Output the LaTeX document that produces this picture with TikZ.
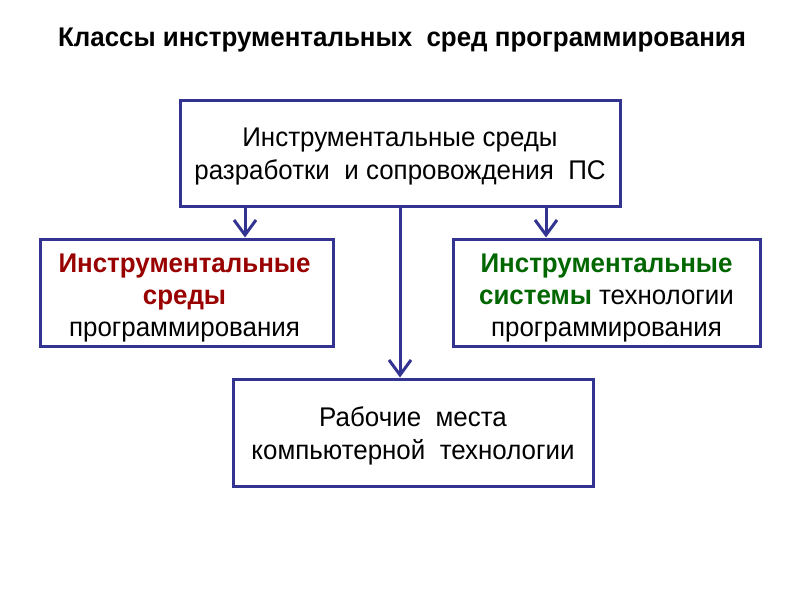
\documentclass[tikz,border=0pt]{standalone}
\usepackage{fontspec}
\setmainfont[FakeStretch=0.96]{Liberation Sans}
\usetikzlibrary{arrows.meta}
\definecolor{boxblue}{RGB}{51,51,145}
\definecolor{dred}{RGB}{153,0,0}
\definecolor{dgreen}{RGB}{0,102,0}
\begin{document}
\begin{tikzpicture}[x=1pt,y=-1pt,
  box/.style={draw=boxblue,line width=3pt,fill=white,inner sep=0pt},
  txt/.style={inner sep=0pt,align=center,font=\fontsize{27}{33}\selectfont},
  stxt/.style={inner sep=0pt,align=center,font=\fontsize{27}{32}\selectfont},
  conn/.style={draw=boxblue,line width=3pt,-{Straight Barb[length=15pt,width=22pt,line width=3pt]}}]
\useasboundingbox (0,0) rectangle (800,600);
\node[font=\bfseries\fontsize{27}{30}\selectfont] (title) at (402,40) {Классы инструментальных\ \ сред программирования};
\node[box,minimum width=440pt,minimum height=106pt] (top) at (400,153) {};
\node[txt] (toptxt) at ([yshift=-3.5pt]top.center) {Инструментальные среды\\разработки\ \ и сопровождения\ \ ПС};
\node[box,minimum width=293pt,minimum height=107pt] (left) at (186.5,292.5) {};
\node[stxt] (lefttxt) at ([yshift=-6pt,xshift=-2pt]left.center) {{\bfseries\color{dred}Инструментальные}\\{\bfseries\color{dred}среды}\\программирования};
\node[box,minimum width=307pt,minimum height=107pt] (right) at (606.5,292.5) {};
\node[stxt] (righttxt) at ([yshift=-6pt]right.center) {{\bfseries\color{dgreen}Инструментальные}\\{\bfseries\color{dgreen}системы} технологии\\программирования};
\node[box,minimum width=360pt,minimum height=107pt] (bot) at (413,432.5) {};
\node[txt] (bottxt) at ([yshift=-3.5pt]bot.center) {Рабочие\ \ места\\компьютерной\ \ технологии};
\draw[conn] (top.south -| 245,0) -- (left.north -| 245,0);
\draw[conn] (top.south -| 546,0) -- (right.north -| 546,0);
\draw[conn] (top.south -| 400,0) -- (bot.north -| 400,0);
\end{tikzpicture}
\end{document}
